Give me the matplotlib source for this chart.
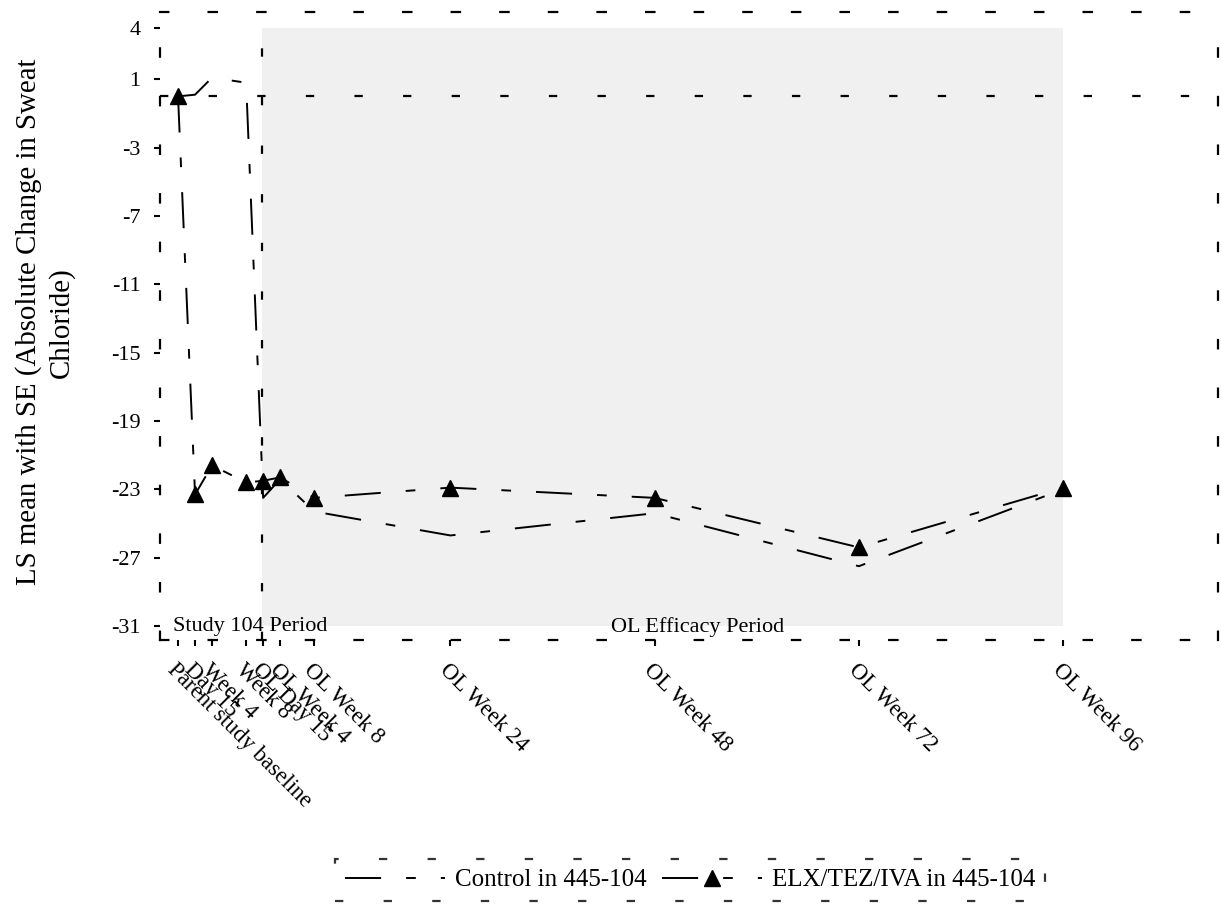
import matplotlib
matplotlib.use('Agg')
import matplotlib.pyplot as plt

plt.rcParams['font.family'] = ['Liberation Serif', 'DejaVu Serif']
plt.rcParams['lines.scale_dashes'] = False

# ---- data ----
visits = ["Parent study baseline", "Day 15", "Week 4", "Week 8", "OL Day 15",
          "OL Week 4", "OL Week 8", "OL Week 24", "OL Week 48", "OL Week 72", "OL Week 96"]
weeks = [0, 2, 4, 8, 10, 12, 16, 32, 56, 80, 104]
control = [0.0, 0.1, 1.1, 0.8, -23.5, -22.4, -24.3, -25.7, -24.4, -27.5, -23.0]
elx = [0.0, -23.3, -21.6, -22.6, -22.5, -22.3, -23.5, -22.9, -23.5, -26.4, -22.9]
yticks = [4, 1, -3, -7, -11, -15, -19, -23, -27, -31]
series_labels = ["Control in 445-104", "ELX/TEZ/IVA in 445-104"]
ylabel = "LS mean with SE (Absolute Change in Sweat\nChloride)"
period_labels = ["Study 104 Period", "OL Efficacy Period"]
ol_start = 9.9
ol_end = 104

frame_dash = (0, (6, 29))
data_dash = (0, (26, 18, 7, 18))

fig = plt.figure(figsize=(12.22, 9.18), dpi=100)
ax = fig.add_axes([160/1222, 1 - 640/918, (1218-160)/1222, (640-12)/918])

ax.set_xlim(-2.12, 122.2)
ax.set_ylim(-31.82, 4.94)

ax.fill_between([ol_start, ol_end], -31, 4, color='#f0f0f0', lw=0, zorder=0)
ax.axhline(0, color='black', lw=1.6, linestyle=frame_dash, zorder=1)
ax.axvline(ol_start, color='black', lw=1.6, linestyle=frame_dash, zorder=1)

l1, = ax.plot(weeks, control, color='black', lw=1.4, linestyle=data_dash, zorder=3)
l2, = ax.plot(weeks, elx, color='black', lw=1.4, linestyle=data_dash, marker='^',
              markersize=11, markerfacecolor='black', markeredgecolor='black', zorder=4)

for s in ax.spines.values():
    s.set_linestyle(frame_dash)
    s.set_linewidth(1.6)

ax.set_yticks(yticks)
ax.set_yticklabels([str(v) for v in yticks], fontsize=16)
ax.set_xticks(weeks)
ax.set_xticklabels(visits, fontsize=16.5, rotation=-45, ha='left', va='top',
                   rotation_mode='anchor')
ax.tick_params(axis='y', length=4, width=1.5, direction='out', pad=10)
ax.tick_params(axis='x', length=4, width=1.5, direction='out', pad=10)

ax.set_ylabel(ylabel, fontsize=20.8, va='center', multialignment='center', linespacing=1.3)
ax.yaxis.set_label_coords(-0.1087, 0.506)

ax.text(-0.6, -31.05, period_labels[0], fontsize=16, ha='left', va='center', zorder=5)
ax.text(61, -31.05, period_labels[1], fontsize=16, ha='center', va='center', zorder=5)

leg = fig.legend([l1, l2], series_labels, loc='center',
                 bbox_to_anchor=(690/1222, 1 - 880/918), ncol=2, fontsize=18,
                 handlelength=4.0, handletextpad=0.4, columnspacing=0.6,
                 fancybox=False, frameon=True, borderpad=0.4)
fr = leg.get_frame()
fr.set_linestyle(frame_dash)
fr.set_edgecolor('black')
fr.set_linewidth(1.6)

fig.savefig('out.png', dpi=100)
